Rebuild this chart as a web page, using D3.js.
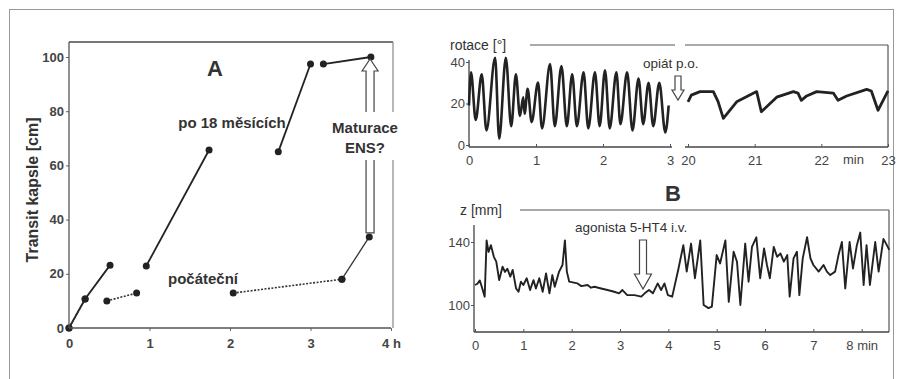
<!DOCTYPE html>
<html>
<head>
<meta charset="utf-8">
<script src="https://cdn.jsdelivr.net/npm/d3@7"></script>
<style>
  body { margin: 0; background: #fff; }
  svg text { font-family: "Liberation Sans", Arial, sans-serif; fill: #333; }
</style>
</head>
<body>
<svg id="fig" width="901" height="379"></svg>
<script>
// ---- panel A: transit of capsule [cm] vs time [h]
const aTicksY = [0, 20, 40, 60, 80, 100];
const aTicksX = [0, 1, 2, 3, 4];
const aTickLabelsX = ['0', '1', '2', '3', '4 h'];
// po 18 měsících (solid), broken into runs
const lateRuns = [
  [[0, 0], [0.2, 10.7], [0.51, 23.2]],
  [[0.96, 22.9], [1.74, 65.7]],
  [[2.6, 65], [3.0, 97.4]],
  [[3.16, 97.4], [3.75, 100]]
];
// počáteční (dotted)
const earlyRuns = [
  [[0, 0], [0.2, 10.7]],
  [[0.47, 10], [0.84, 12.9]],
  [[2.04, 12.9], [3.39, 18]]
];
const earlySolid = [[3.39, 18], [3.73, 33.6]];

// ---- panel B top: rotace [°]
const rotTicksY = [0, 20, 40];
const rotTicks1 = [0, 1, 2, 3];
const rotTicks2 = [20, 21, 22, 23];
const rot1 = [
  [0, 20], [0.03, 36], [0.1, 13], [0.19, 35], [0.26, 8], [0.39, 43], [0.45, 4],
  [0.55, 43], [0.63, 10], [0.7, 35], [0.76, 15], [0.81, 24], [0.83, 16], [0.875, 28],
  [0.935, 12], [1.03, 31], [1.09, 9], [1.21, 40], [1.28, 10], [1.38, 39], [1.46, 10],
  [1.54, 35], [1.61, 10], [1.71, 36], [1.78, 9], [1.88, 36], [1.95, 10], [2.03, 37],
  [2.1, 9], [2.2, 36], [2.26, 11], [2.36, 36], [2.44, 8], [2.53, 33], [2.6, 11],
  [2.68, 31], [2.75, 10], [2.84, 31], [2.93, 7], [2.98, 20]
];
const rot2 = [
  [20.0, 21.8], [20.05, 25], [20.18, 26.7], [20.38, 26.7], [20.45, 22], [20.53, 13.8],
  [20.73, 21.8], [21.03, 26.7], [21.1, 17], [21.33, 24], [21.58, 26.7], [21.65, 26],
  [21.7, 22.5], [21.78, 24.6], [21.93, 26.7], [22.18, 26], [22.25, 22.5], [22.38, 24.6],
  [22.68, 27.8], [22.75, 27], [22.85, 17.7], [23.0, 27]
];

// ---- panel B bottom: z [mm]
const zTicksY = [100, 140];
const zTicksX = [0, 1, 2, 3, 4, 5, 6, 7, 8];
const zTickLabels = ['0', '1', '2', '3', '4', '5', '6', '7', '8 min'];
const zTrace = [
  [0, 112.7], [0.05, 113.5], [0.1, 115.6], [0.14, 111.6], [0.2, 105.3], [0.24, 141],
  [0.28, 133.7], [0.33, 138], [0.39, 130.6], [0.44, 127.5], [0.5, 115.8], [0.57, 124.3],
  [0.62, 121], [0.67, 123], [0.73, 118], [0.78, 122.3], [0.85, 110.5], [0.9, 108.4],
  [0.95, 114.8], [1.0, 112.7], [1.07, 117], [1.14, 109.5], [1.21, 115.8], [1.26, 110.5],
  [1.33, 117], [1.4, 108.4], [1.47, 120], [1.54, 107.4], [1.6, 119], [1.65, 111.6],
  [1.74, 121.2], [1.81, 125.4], [1.86, 141], [1.9, 121.2], [1.95, 114.8], [2.12, 113.7],
  [2.2, 112], [2.33, 112.7], [2.4, 111], [2.47, 111.6], [2.61, 110.5], [2.74, 109.5],
  [2.88, 108.4], [2.98, 107.4], [3.05, 109.5], [3.15, 106.3], [3.3, 106.3], [3.44, 105.3],
  [3.51, 107.4], [3.6, 109.5], [3.68, 107.4], [3.78, 113.7], [3.85, 109.5], [3.92, 113.7],
  [3.99, 106.3], [4.08, 105.3], [4.21, 123.2], [4.31, 138], [4.38, 121.2], [4.47, 139],
  [4.55, 117], [4.66, 141], [4.73, 100], [4.83, 98], [4.9, 99], [5.0, 131.7], [5.07, 126.4],
  [5.18, 141], [5.25, 102], [5.35, 133.8], [5.42, 127.5], [5.49, 100], [5.59, 139],
  [5.66, 114.8], [5.73, 136.9], [5.82, 143], [5.9, 117], [5.98, 135.9], [6.04, 125.4],
  [6.1, 117], [6.18, 136.9], [6.25, 130.6], [6.32, 132.7], [6.39, 127.5], [6.46, 131.7],
  [6.51, 105.3], [6.59, 129.6], [6.66, 133.8], [6.71, 106.3], [6.78, 129.6], [6.87, 143],
  [6.94, 129.6], [7.0, 125.4], [7.11, 121.2], [7.21, 125.4], [7.28, 121.2], [7.35, 119],
  [7.45, 121.2], [7.52, 131.7], [7.59, 140], [7.66, 110.5], [7.75, 140], [7.82, 123.2],
  [7.9, 138], [7.97, 146], [8.04, 112.7], [8.1, 138], [8.17, 112.7], [8.28, 140],
  [8.35, 121.2], [8.45, 142], [8.52, 138], [8.57, 135]
];

const svg = d3.select('#fig');
const ink = '#222';
const frameGrey = '#888';
const fmtInt = d3.format('d');

// outer frame of the figure
svg.append('rect').attr('x', 9.5).attr('y', 9.5).attr('width', 884).attr('height', 400)
  .attr('fill', 'none').attr('stroke', '#999').attr('stroke-width', 1);

function hline(x1, x2, y, col, w) {
  svg.append('line').attr('x1', x1).attr('x2', x2).attr('y1', y).attr('y2', y)
    .attr('stroke', col).attr('stroke-width', w);
}
function vline(x, y1, y2, col, w) {
  svg.append('line').attr('x1', x).attr('x2', x).attr('y1', y1).attr('y2', y2)
    .attr('stroke', col).attr('stroke-width', w);
}
// hollow vertical arrow from tail to tip
function hollowArrow(cx, tail, tip, headLen, shaftW, headW) {
  const d = Math.sign(tip - tail);
  const hb = tip - d * headLen;
  const pts = [[cx - shaftW / 2, tail], [cx - shaftW / 2, hb], [cx - headW / 2, hb], [cx, tip],
    [cx + headW / 2, hb], [cx + shaftW / 2, hb], [cx + shaftW / 2, tail]];
  svg.append('path').attr('d', 'M' + pts.join('L') + 'Z')
    .attr('fill', '#fff').attr('stroke', '#444').attr('stroke-width', 1.2);
}

// ================= panel A =================
const xA = d3.scaleLinear().domain([0, 4]).range([69, 391]);
const yA = d3.scaleLinear().domain([0, 100]).range([328, 57]);
const lineA = d3.line().x(d => xA(d[0])).y(d => yA(d[1]));

hline(xA(0), 393, 42, '#777', 2);
vline(393, 42, yA(0), frameGrey, 1.2);

const gA = svg.append('g');
gA.append('g').attr('transform', `translate(${xA(0)},0)`)
  .call(d3.axisLeft(yA).tickValues(aTicksY).tickSize(3).tickPadding(2))
  .call(g => g.select('.domain').remove());
gA.append('g').attr('transform', `translate(0,${yA(0)})`)
  .call(d3.axisBottom(xA).tickValues(aTicksX).tickSize(3).tickPadding(8)
    .tickFormat((d, i) => aTickLabelsX[i]))
  .call(g => g.select('.domain').remove());
gA.selectAll('.tick line').attr('stroke', '#666');
gA.selectAll('.tick text').attr('font-size', 13).attr('font-weight', 'bold')
  .style('fill', '#444').attr('font-family', '"Liberation Sans", Arial, sans-serif');
vline(xA(0), 42, yA(0), '#555', 1.3);
hline(xA(0), xA(4), yA(0), '#555', 1.3);

gA.selectAll('.late').data(lateRuns).join('path').attr('class', 'late')
  .attr('d', lineA).attr('fill', 'none').attr('stroke', ink).attr('stroke-width', 1.8);
gA.selectAll('.early').data(earlyRuns).join('path').attr('class', 'early')
  .attr('d', lineA).attr('fill', 'none').attr('stroke', '#333')
  .attr('stroke-width', 1.6).attr('stroke-dasharray', '2,1.5');
gA.append('path').attr('d', lineA(earlySolid)).attr('fill', 'none')
  .attr('stroke', '#333').attr('stroke-width', 1.3);

const dotsA = lateRuns.flat().concat(earlyRuns.flat(), earlySolid);
gA.selectAll('circle').data(dotsA).join('circle')
  .attr('cx', d => xA(d[0])).attr('cy', d => yA(d[1])).attr('r', 3.5).attr('fill', ink);

// Maturace arrow
hollowArrow(xA(3.74), yA(33.6) - 4, yA(100) + 2, 12, 8, 16);
svg.append('rect').attr('x', 322).attr('y', 112).attr('width', 86).attr('height', 48).attr('fill', '#fff');
svg.append('text').attr('x', 365).attr('y', 133).attr('text-anchor', 'middle')
  .attr('font-size', 15).attr('font-weight', 'bold').text('Maturace');
svg.append('text').attr('x', 365).attr('y', 153).attr('text-anchor', 'middle')
  .attr('font-size', 15).attr('font-weight', 'bold').text('ENS?');

svg.append('text').attr('x', 215).attr('y', 76).attr('text-anchor', 'middle')
  .attr('font-size', 22).attr('font-weight', 'bold').text('A');
svg.append('text').attr('x', 232).attr('y', 128).attr('text-anchor', 'middle')
  .attr('font-size', 15).attr('font-weight', 'bold').text('po 18 měsících');
svg.append('text').attr('x', 203).attr('y', 284).attr('text-anchor', 'middle')
  .attr('font-size', 15).attr('font-weight', 'bold').text('počáteční');
svg.append('text').attr('transform', 'translate(38,190) rotate(-90)').attr('text-anchor', 'middle')
  .attr('font-size', 16).attr('font-weight', 'bold').text('Transit kapsle [cm]');

// ================= panel B top =================
const yR = d3.scaleLinear().domain([0, 40]).range([147, 64]);
const xR1 = d3.scaleLinear().domain([0, 3]).range([469, 670]);
const xR2 = d3.scaleLinear().domain([20, 23]).range([688, 888]);

hline(530, 675, 45, '#555', 1.2);
hline(685, 888, 45, '#555', 1.2);
vline(888, 45, 147, '#555', 1.2);
vline(xR1(0), 60, 147, '#444', 1.3);
hline(xR1(0), 672, 147, '#444', 1.3);
hline(685, 888, 147, '#444', 1.3);

const gR = svg.append('g');
gR.append('g').attr('transform', `translate(${xR1(0)},-2)`)
  .call(d3.axisLeft(yR).tickValues(rotTicksY).tickSize(3).tickPadding(1).tickFormat(fmtInt))
  .call(g => g.select('.domain').remove());
gR.append('g').attr('transform', 'translate(0,147)')
  .call(d3.axisBottom(xR1).tickValues(rotTicks1).tickSize(-3).tickPadding(9).tickFormat(fmtInt))
  .call(g => g.select('.domain').remove());
gR.append('g').attr('transform', 'translate(0,147)')
  .call(d3.axisBottom(xR2).tickValues(rotTicks2).tickSize(-3).tickPadding(9).tickFormat(fmtInt))
  .call(g => g.select('.domain').remove());
gR.selectAll('.tick line').attr('stroke', '#555');
gR.selectAll('.tick text').attr('font-size', 13).style('fill', '#444')
  .attr('font-family', '"Liberation Sans", Arial, sans-serif');

const lineR1 = d3.line().x(d => xR1(d[0])).y(d => yR(d[1])).curve(d3.curveMonotoneX);
const lineR2 = d3.line().x(d => xR2(d[0])).y(d => yR(d[1]));
gR.append('path').attr('d', lineR1(rot1)).attr('fill', 'none').attr('stroke', ink)
  .attr('stroke-width', 2.6).attr('stroke-linejoin', 'round');
gR.append('path').attr('d', lineR2(rot2)).attr('fill', 'none').attr('stroke', ink)
  .attr('stroke-width', 2.8).attr('stroke-linejoin', 'round');

svg.append('text').attr('x', 450).attr('y', 50).attr('font-size', 14).text('rotace [°]');
svg.append('text').attr('x', 643).attr('y', 68).attr('font-size', 13.5).text('opiát p.o.');
svg.append('text').attr('x', 843).attr('y', 164).attr('font-size', 13).style('fill', '#444').text('min');
hollowArrow(678, 76, 100, 10, 6, 12);

// ================= panel B bottom =================
const xB = d3.scaleLinear().domain([0, 8]).range([475, 861.7]);
const yB = d3.scaleLinear().domain([100, 140]).range([305, 242]);

hline(520, 889, 210, '#555', 1.2);
vline(889, 210, 332, '#555', 1.2);
vline(474, 225, 332, '#444', 1.3);
hline(474, 889, 332, '#444', 1.3);

svg.append('text').attr('x', 673).attr('y', 201).attr('text-anchor', 'middle')
  .attr('font-size', 22).attr('font-weight', 'bold').text('B');
svg.append('text').attr('x', 460).attr('y', 215).attr('font-size', 14).text('z [mm]');

const gB = svg.append('g');
gB.append('g').attr('transform', 'translate(474,0)')
  .call(d3.axisLeft(yB).tickValues(zTicksY).tickSize(3).tickPadding(1))
  .call(g => g.select('.domain').remove());
gB.append('g').attr('transform', 'translate(0,332)')
  .call(d3.axisBottom(xB).tickValues(zTicksX).tickSize(-3).tickPadding(9)
    .tickFormat((d, i) => zTickLabels[i]))
  .call(g => g.select('.domain').remove());
gB.selectAll('.tick line').attr('stroke', '#555');
gB.selectAll('.tick text').attr('font-size', 13).style('fill', '#444')
  .attr('font-family', '"Liberation Sans", Arial, sans-serif');
// the last label "8 min" is anchored on the number
gB.selectAll('.tick text').filter((d, i) => i === zTicksX.length - 1)
  .attr('text-anchor', 'start').attr('dx', -4);

const lineB = d3.line().x(d => xB(d[0])).y(d => yB(d[1]));
gB.append('path').attr('d', lineB(zTrace)).attr('fill', 'none').attr('stroke', ink)
  .attr('stroke-width', 1.9).attr('stroke-linejoin', 'round');

svg.append('text').attr('x', 575).attr('y', 232).attr('font-size', 13.5).text('agonista 5-HT4 i.v.');
hollowArrow(643, 240, 289, 15, 7, 17);
</script>
</body>
</html>
